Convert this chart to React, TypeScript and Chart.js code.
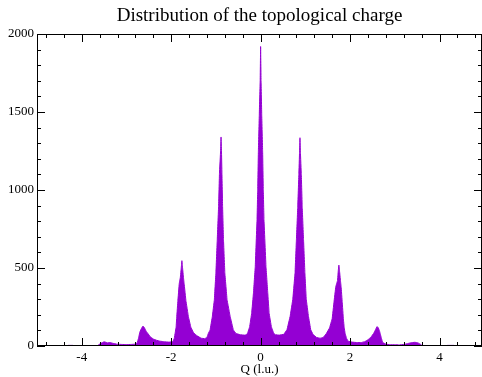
import React, { useEffect, useRef } from "react";
import { Chart, registerables } from "chart.js";

Chart.register(...registerables);

const TITLE = "Distribution of the topological charge";
const X_LABEL = "Q (l.u.)";
const X_TICKS = [-4, -2, 0, 2, 4];

// Histogram outline: charge Q and counts
const qValues = [
  -4.35, -4.3, -4.2, -4.15, -3.65, -3.62, -3.58, -3.54, -3.5, -3.46, -3.42, -3.36, -3.3, -3.22, -3.1, -3.0, -2.9, -2.8,
  -2.76, -2.73, -2.7, -2.66, -2.63, -2.6, -2.56, -2.52, -2.47, -2.4, -2.33, -2.25, -2.15, -2.05,
  -1.96, -1.93, -1.91, -1.89, -1.875, -1.85, -1.82, -1.795, -1.775, -1.76, -1.745, -1.725, -1.71, -1.67, -1.615, -1.56, -1.5, -1.42, -1.33, -1.25,
  -1.2, -1.17, -1.13, -1.08, -1.035, -1.0, -0.97, -0.94, -0.92, -0.895, -0.885, -0.875, -0.865, -0.85, -0.83, -0.8, -0.75, -0.68, -0.61, -0.55, -0.45, -0.36,
  -0.32, -0.29, -0.245, -0.2, -0.16, -0.12, -0.08, -0.065, -0.05, -0.03, -0.01, 0, 0.01, 0.025, 0.045, 0.06, 0.075, 0.12, 0.16, 0.19, 0.24, 0.29, 0.33, 0.42,
  0.52, 0.59, 0.66, 0.72, 0.77, 0.8, 0.83, 0.855, 0.87, 0.88, 0.89, 0.91, 0.93, 0.96, 0.99, 1.02, 1.07, 1.12, 1.17, 1.25, 1.33,
  1.4, 1.47, 1.54, 1.6, 1.64, 1.68, 1.72, 1.735, 1.75, 1.765, 1.785, 1.8, 1.825, 1.85, 1.87, 1.89, 1.92, 1.96, 2.05, 2.15, 2.25,
  2.33, 2.4, 2.47, 2.53, 2.57, 2.6, 2.63, 2.66, 2.7, 2.73, 2.8, 2.9, 3.0, 3.1, 3.2, 3.28, 3.35, 3.45, 3.52, 3.58, 3.62,
  4.15, 4.18, 4.32, 4.35,
];
const counts = [
  0, 4, 4, 0, 0, 8, 16, 22, 27, 24, 20, 22, 17, 12, 10, 9, 10, 12,
  20, 50, 90, 115, 128, 118, 95, 80, 60, 45, 37, 31, 27, 25,
  28, 50, 85, 120, 188, 290, 400, 440, 500, 547, 500, 440, 400, 290, 188, 120, 85, 65, 50, 47,
  55, 80, 103, 188, 295, 468, 680, 893, 1109, 1250, 1340, 1250, 1109, 893, 680, 468, 295, 188, 103, 80, 72, 70,
  72, 83, 124, 210, 340, 510, 810, 1000, 1250, 1480, 1700, 1920, 1700, 1480, 1250, 1000, 810, 510, 340, 210, 124, 83, 72, 70,
  75, 105, 190, 300, 470, 680, 890, 1100, 1240, 1335, 1240, 1100, 890, 680, 470, 300, 190, 105, 75, 55, 50,
  55, 80, 115, 175, 280, 380, 420, 480, 519, 480, 420, 380, 280, 175, 115, 80, 50, 30, 25, 22, 22,
  28, 40, 58, 82, 105, 124, 118, 95, 50, 22, 12, 8, 8, 7, 10, 15, 20, 24, 20, 10, 0,
  0, 4, 4, 0,
];

const SERIF = "'Liberation Serif', 'DejaVu Serif', serif";
const PURPLE = "#9400d3";

const frameTicks = {
  id: "frameTicks",
  afterDatasetsDraw(chart: any) {
    const { ctx, chartArea: a, scales } = chart;
    const x = scales.x;
    const y = scales.y;
    ctx.save();
    ctx.strokeStyle = "#000";
    ctx.lineWidth = 1;
    ctx.strokeRect(a.left + 0.5, a.top + 0.5, a.right - a.left - 1, a.bottom - a.top - 1);
    ctx.beginPath();
    for (let k = -13; k <= 13; k++) {
      const v = k * 0.4;
      if (v < x.min || v > x.max) continue;
      const px = Math.round(x.getPixelForValue(v)) + 0.5;
      const len = k % 5 === 0 ? 8 : 4;
      ctx.moveTo(px, a.bottom);
      ctx.lineTo(px, a.bottom - len);
      ctx.moveTo(px, a.top);
      ctx.lineTo(px, a.top + len);
    }
    for (let k = 0; k <= 20; k++) {
      const v = k * 100;
      const py = Math.round(y.getPixelForValue(v)) + 0.5;
      const len = k % 5 === 0 ? 8 : 4;
      ctx.moveTo(a.left, py);
      ctx.lineTo(a.left + len, py);
      ctx.moveTo(a.right, py);
      ctx.lineTo(a.right - len, py);
    }
    ctx.stroke();
    // title centred over the plot area
    ctx.fillStyle = "#000";
    ctx.font = "19px " + SERIF;
    ctx.textAlign = "center";
    ctx.textBaseline = "alphabetic";
    ctx.fillText(TITLE, (a.left + a.right) / 2, 21);
    ctx.restore();
  },
};

export default function App() {
  const ref = useRef<HTMLCanvasElement | null>(null);
  useEffect(() => {
    if (!ref.current) return;
    const data = qValues.map((q, i) => ({ x: q, y: counts[i] }));
    const chart = new Chart(ref.current, {
      type: "line",
      data: {
        datasets: [
          {
            data,
            fill: "origin",
            backgroundColor: PURPLE,
            borderColor: PURPLE,
            borderWidth: 1,
            pointRadius: 0,
            tension: 0.0001,
          },
        ],
      },
      options: {
        animation: false,
        responsive: true,
        maintainAspectRatio: false,
        layout: { padding: { top: 34, left: 0, right: 0, bottom: 0 } },
        plugins: {
          legend: { display: false },
          tooltip: { enabled: false },
          title: { display: false },
        },
        scales: {
          x: {
            type: "linear",
            min: -5,
            max: 4.95,
            grid: { display: false, drawTicks: false },
            border: { display: false },
            afterBuildTicks: (s: any) => {
              s.ticks = X_TICKS.map((v) => ({ value: v }));
            },
            afterFit: (s: any) => {
              s.height = 31;
            },
            ticks: {
              color: "#000",
              font: { family: SERIF, size: 13 },
              padding: 4,
              maxRotation: 0,
              autoSkip: false,
              callback: (v: any) => String(v),
            },
            title: {
              display: true,
              text: X_LABEL,
              color: "#000",
              font: { family: SERIF, size: 13 },
              padding: { top: 0, bottom: 0 },
            },
          },
          y: {
            min: 0,
            max: 2000,
            grid: { display: false, drawTicks: false },
            border: { display: false },
            afterFit: (s: any) => {
              s.width = 37;
            },
            ticks: {
              stepSize: 500,
              color: "#000",
              font: { family: SERIF, size: 13 },
              padding: 3,
              callback: (v: any) => String(v),
            },
          },
        },
      },
      plugins: [frameTicks],
    });
    return () => chart.destroy();
  }, []);
  return (
    <div style={{ position: "fixed", left: 0, top: 0, width: 482, height: 377, background: "#fff" }}>
      <canvas ref={ref} />
    </div>
  );
}
